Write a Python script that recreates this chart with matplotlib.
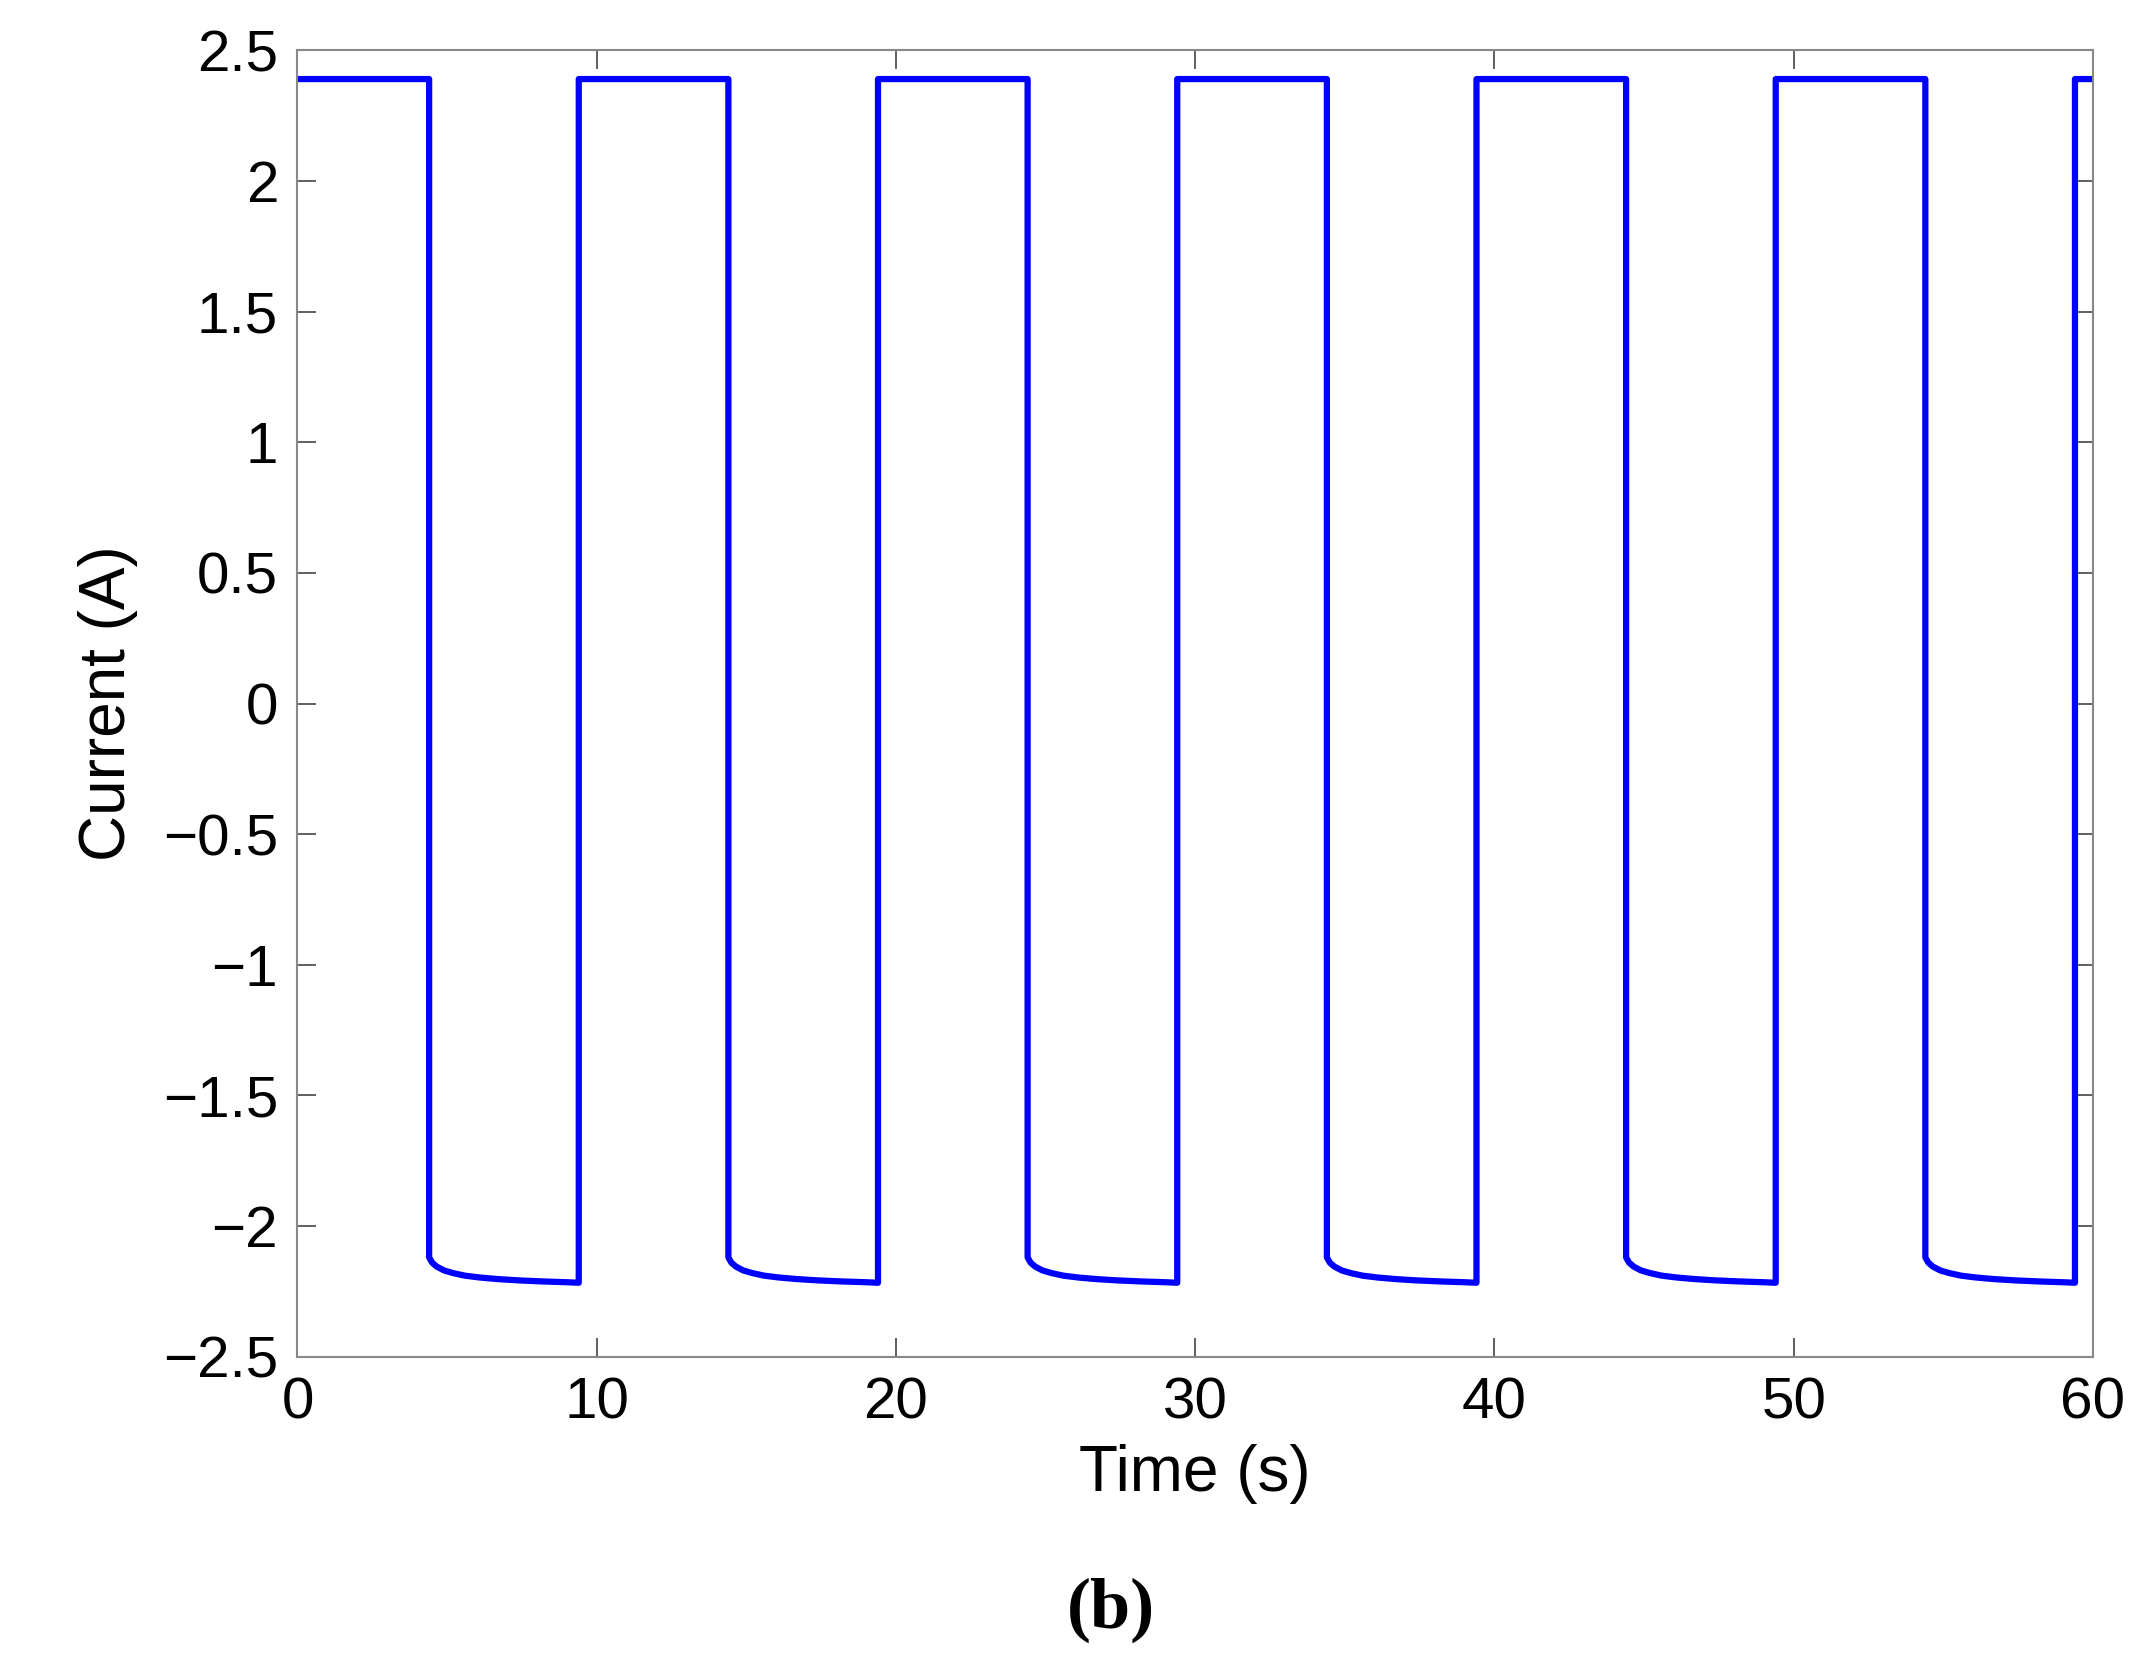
import matplotlib
matplotlib.use("Agg")
import matplotlib.pyplot as plt
import numpy as np

high_level = 2.39
fall_times = [4.4, 14.4, 24.4, 34.4, 44.4, 54.4]
rise_times = [9.4, 19.4, 29.4, 39.4, 49.4, 59.4]
low_offsets = [0.0, 0.1, 0.25, 0.5, 0.8, 1.2, 1.7, 2.3, 3.0, 3.8, 4.6, 5.0]
low_values = [-2.12, -2.14, -2.155, -2.17, -2.18, -2.19, -2.197, -2.203, -2.208, -2.212, -2.215, -2.217]
x_ticks = [0, 10, 20, 30, 40, 50, 60]
y_ticks = [-2.5, -2, -1.5, -1, -0.5, 0, 0.5, 1, 1.5, 2, 2.5]

t = [0.0]
y = [high_level]
for f, r in zip(fall_times, rise_times):
    t += [f]
    y += [high_level]
    for o, v in zip(low_offsets, low_values):
        t.append(f + o)
        y.append(v)
    t += [r]
    y += [high_level]
t.append(60.0)
y.append(high_level)

plt.rcParams['font.family'] = ['Liberation Sans', 'DejaVu Sans']
fig = plt.figure(figsize=(21.4, 16.77), dpi=100)
ax = fig.add_axes([0.139, 0.191, 0.839, 0.779])
ax.plot(t, y, color='#0000ff', lw=4.5)
ax.set_xlim(0, 60)
ax.set_ylim(-2.5, 2.5)
ax.set_xticks(x_ticks)
ax.set_yticks(y_ticks)
ax.set_yticklabels([("%g" % v).replace('-', '\u2212') for v in y_ticks])
ax.tick_params(direction='in', top=True, right=True, labelsize=42, length=14, width=1.2, color='#444444', pad=14)
for s in ax.spines.values():
    s.set_color('#888888'); s.set_linewidth(1.5)
ax.set_xlabel('Time (s)', fontsize=46, labelpad=10)
ax.set_ylabel('Current (A)', fontsize=46, labelpad=18)
fig.text(0.519, 0.04, '(b)', ha='center', va='center', fontsize=52, fontweight='bold', family='Liberation Serif')
fig.savefig('out.png', dpi=100)
